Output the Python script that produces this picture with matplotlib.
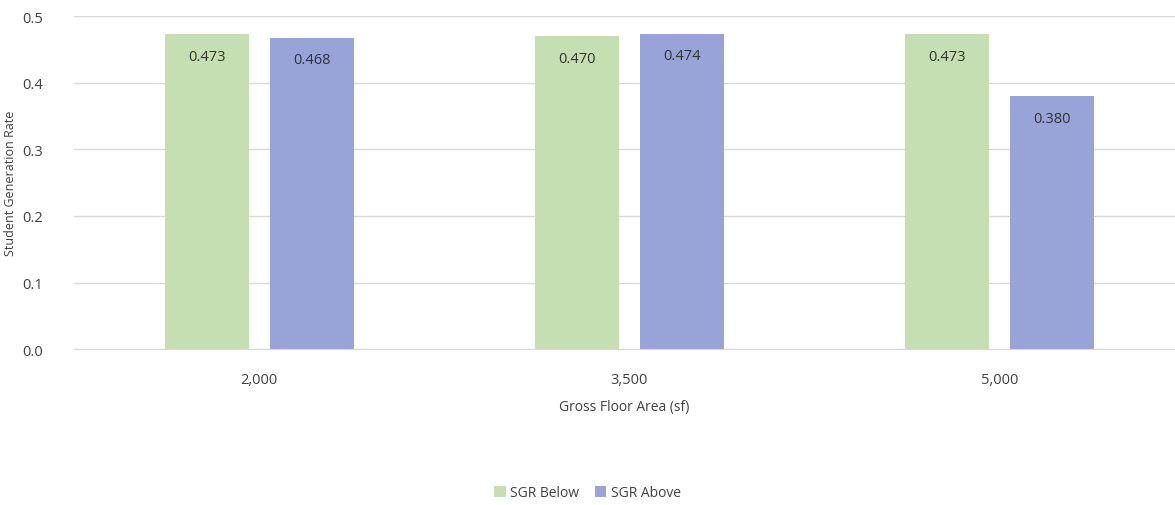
import matplotlib.pyplot as plt
import numpy as np

plt.rcParams['font.family'] = ['Open Sans', 'DejaVu Sans']

# Data
floor_areas = ["2,000", "3,500", "5,000"]
sgr_below = [0.473, 0.470, 0.473]
sgr_above = [0.468, 0.474, 0.380]
y_ticks = [0.0, 0.1, 0.2, 0.3, 0.4, 0.5]

green = '#c6dfb2'
blue = '#98a4d7'

x = np.arange(len(floor_areas))
width = 0.227

fig = plt.figure(figsize=(11.75, 5.06), dpi=100)
ax = fig.add_axes([0.063, 0.308, 0.937, 0.658])

bars1 = ax.bar(x - 0.142, sgr_below, width, color=green, label='SGR Below', zorder=2)
bars2 = ax.bar(x + 0.142, sgr_above, width, color=blue, label='SGR Above', zorder=2)

ax.set_xlim(-0.5, 2.475)
ax.set_ylim(0, 0.5)
ax.set_yticks(y_ticks)
ax.set_yticklabels([f'{t:.1f}' for t in y_ticks], fontsize=10.5, color='#404040')
ax.set_xticks(x)
ax.set_xticklabels(floor_areas, fontsize=10.5, color='#404040')
ax.tick_params(axis='x', length=0, pad=16.4)
ax.tick_params(axis='y', length=0, pad=22)

ax.grid(axis='y', color='#d9d9d9', linewidth=1, zorder=0)
for side in ['top', 'right', 'left']:
    ax.spines[side].set_visible(False)
ax.spines['bottom'].set_color('#d9d9d9')

ax.set_xlabel('Gross Floor Area (sf)', fontsize=10, color='#404040', labelpad=8.5)
ax.set_ylabel('Student Generation Rate', fontsize=9, color='#404040')
ax.yaxis.set_label_coords(-0.052, 0.5)

# Value labels just inside the top of each bar
def add_labels(bars):
    for bar in bars:
        height = bar.get_height()
        ax.annotate(
            f'{height:.3f}',
            xy=(bar.get_x() + bar.get_width() / 2, height),
            xytext=(0, -16),
            textcoords="offset points",
            ha='center', va='center', fontsize=10.5, color='#333333'
        )

add_labels(bars1)
add_labels(bars2)

fig.legend(handles=[bars1, bars2], loc='center', bbox_to_anchor=(0.5, 0.024),
           ncol=2, frameon=False, fontsize=10, handlelength=0.8, handleheight=0.8,
           handletextpad=0.3, columnspacing=1.2, labelcolor='#404040')

fig.savefig('out.png', dpi=100)
